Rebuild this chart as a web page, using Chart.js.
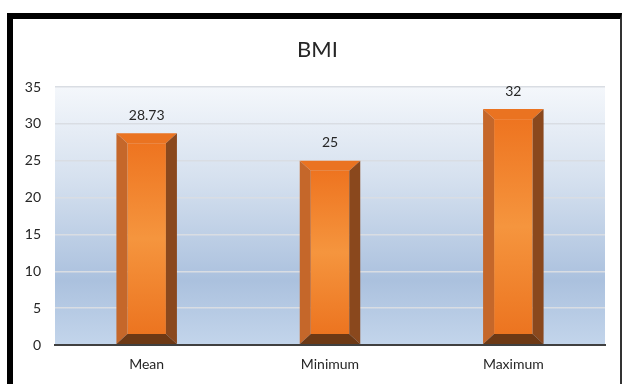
<!DOCTYPE html>
<html>
<head>
<meta charset="utf-8">
<script src="https://cdn.jsdelivr.net/npm/chart.js@4/dist/chart.umd.min.js"></script>
<style>
  html, body { margin: 0; padding: 0; background: #ffffff; }
  #wrap { position: relative; width: 624px; height: 384px; overflow: hidden; }
  #frame {
    position: absolute; left: 7px; top: 13px; width: 607px; height: 400px;
    border-left: 6px solid #000; border-top: 6px solid #000; border-right: 2px solid #333;
    pointer-events: none;
  }
  canvas { position: absolute; left: 0; top: 0; }
</style>
</head>
<body>
<div id="wrap">
  <canvas id="chart" width="624" height="384"></canvas>
  <div id="frame"></div>
</div>
<script>
const categories = ['Mean', 'Minimum', 'Maximum'];
const bmiValues = [28.73, 25, 32];
const yTicks = [0, 5, 10, 15, 20, 25, 30, 35];

const FONT = "'Lato', 'Open Sans', sans-serif";

// Plot background: pale at the top, deeper blue lower down
const plotBackground = {
  id: 'plotBackground',
  beforeDraw(chart) {
    const { ctx, chartArea: a } = chart;
    const g = ctx.createLinearGradient(0, a.top, 0, a.bottom);
    g.addColorStop(0, '#f4f7fb');
    g.addColorStop(0.35, '#d6e1ef');
    g.addColorStop(0.75, '#abc1de');
    g.addColorStop(1, '#c3d5eb');
    ctx.save();
    ctx.fillStyle = g;
    ctx.fillRect(a.left, a.top, a.right - a.left, a.bottom - a.top);
    ctx.restore();
  }
};

// Centre the title over the frame rather than over the padded layout box
const titleShift = {
  id: 'titleShift',
  afterLayout(chart) {
    if (chart.titleBlock) chart.titleBlock.left += 16;
  }
};

// Bevelled column faces and value labels, drawn from each bar element's geometry
const bevelBars = {
  id: 'bevelBars',
  afterDatasetsDraw(chart) {
    const { ctx } = chart;
    const meta = chart.getDatasetMeta(0);
    ctx.save();
    meta.data.forEach((bar, i) => {
      const { x, y, base, width } = bar.getProps(['x', 'y', 'base', 'width'], true);
      const l = x - width / 2, r = x + width / 2, t = y, b = base;
      const bx = 11, bt = 10, bb = 10;

      const face = ctx.createLinearGradient(0, t + bt, 0, b - bb);
      face.addColorStop(0, '#ee7420');
      face.addColorStop(0.5, '#f5953e');
      face.addColorStop(1, '#ec7420');
      ctx.fillStyle = face;
      ctx.fillRect(l + bx, t + bt, width - 2 * bx, (b - bb) - (t + bt));

      const poly = (pts, color) => {
        ctx.beginPath();
        ctx.moveTo(pts[0][0], pts[0][1]);
        for (let k = 1; k < pts.length; k++) ctx.lineTo(pts[k][0], pts[k][1]);
        ctx.closePath();
        ctx.fillStyle = color;
        ctx.fill();
      };
      poly([[l, t], [r, t], [r - bx, t + bt], [l + bx, t + bt]], '#ea7321');
      poly([[l, t], [l + bx, t + bt], [l + bx, b - bb], [l, b]], '#c5672a');
      poly([[r, t], [r, b], [r - bx, b - bb], [r - bx, t + bt]], '#8a481d');
      poly([[l, b], [r, b], [r - bx, b - bb], [l + bx, b - bb]], '#6d3915');

      ctx.fillStyle = '#262626';
      ctx.font = '14px ' + FONT;
      ctx.textAlign = 'center';
      ctx.textBaseline = 'middle';
      ctx.fillText(String(bmiValues[i]), x, t - 18);
    });
    ctx.restore();
  }
};

new Chart(document.getElementById('chart'), {
  type: 'bar',
  data: {
    labels: categories,
    datasets: [{
      label: 'BMI',
      data: bmiValues,
      backgroundColor: 'rgba(0,0,0,0)',
      borderWidth: 0,
      barPercentage: 1,
      categoryPercentage: 0.33
    }]
  },
  options: {
    responsive: false,
    animation: false,
    devicePixelRatio: 1,
    layout: { padding: { left: 14, right: 19, top: 0, bottom: 9 } },
    plugins: {
      legend: { display: false },
      tooltip: { enabled: false },
      title: {
        display: true,
        text: 'BMI',
        color: '#262626',
        font: { family: FONT, size: 22, weight: 'normal' },
        padding: { top: 37, bottom: 23.6 }
      }
    },
    scales: {
      x: {
        grid: { display: false },
        border: { display: true, color: '#404040', width: 2 },
        ticks: { color: '#262626', font: { family: FONT, size: 14 }, padding: 3 },
        afterFit(scale) { scale.height = 30; }
      },
      y: {
        min: 0,
        max: 35,
        afterBuildTicks(scale) { scale.ticks = yTicks.map(v => ({ value: v })); },
        grid: {
          color: ctx => ctx.tick && ctx.tick.value === 0 ? '#404040' : '#d9dde3',
          lineWidth: ctx => ctx.tick && ctx.tick.value === 0 ? 2 : 1.5,
          drawTicks: false
        },
        border: { display: false },
        ticks: { color: '#262626', font: { family: FONT, size: 14 }, padding: 14 },
        afterFit(scale) { scale.width = 41; }
      }
    }
  },
  plugins: [plotBackground, titleShift, bevelBars]
});
</script>
</body>
</html>
